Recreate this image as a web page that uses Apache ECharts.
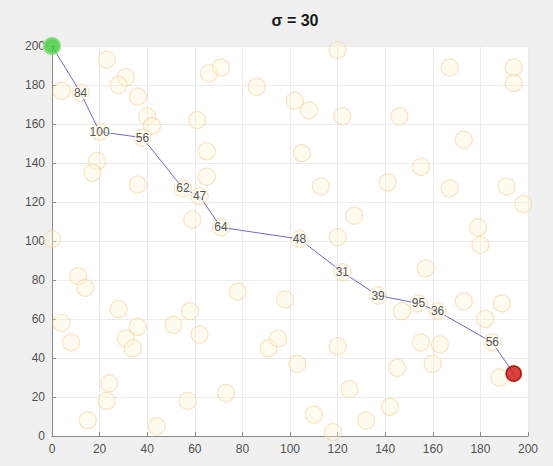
<!DOCTYPE html>
<html>
<head>
<meta charset="utf-8">
<script src="https://cdn.jsdelivr.net/npm/echarts@6/dist/echarts.min.js"></script>
<style>
html,body{margin:0;padding:0;background:#f0f0f0;}
#chart{width:553px;height:466px;}
</style>
</head>
<body>
<div id="chart"></div>
<script>
// ---- data ----
const titleText = 'σ = 30';
const xTicks = [0,20,40,60,80,100,120,140,160,180,200];
const yTicks = [0,20,40,60,80,100,120,140,160,180,200];

// route through the selected points
const pathX = [0, 12, 20, 38, 55, 62, 71, 104, 122, 137, 154, 162, 185, 194];
const pathY = [200, 176, 156, 153, 127, 123, 107, 101, 84, 72, 68, 64, 48, 32];
const pathLabels = ['', '84', '100', '56', '62', '47', '64', '48', '31', '39', '95', '36', '56', ''];

// all candidate points (circles)
const circleX = [4, 23, 31, 28, 36, 40, 42, 19, 17, 66, 71, 86, 65, 65, 59, 61, 120, 102, 108, 146,
  141, 120, 122, 105, 113, 127, 194, 194, 167, 173, 155, 167, 191, 198, 179, 180, 0, 11, 14, 28,
  36, 31, 34, 51, 58, 62, 4, 8, 78, 91, 95, 24, 23, 15, 57, 73, 44, 98, 103, 120,
  125, 110, 118, 132, 142, 145, 147, 157, 173, 189, 182, 155, 163, 160, 188, 36];
const circleY = [177, 193, 184, 180, 174, 164, 159, 141, 135, 186, 189, 179, 146, 133, 111, 162, 198, 172, 167, 164,
  130, 102, 164, 145, 128, 113, 189, 181, 189, 152, 138, 127, 128, 119, 107, 98, 101, 82, 76, 65,
  56, 50, 45, 57, 64, 52, 58, 48, 74, 45, 50, 27, 18, 8, 18, 22, 5, 70, 37, 46,
  24, 11, 2, 8, 15, 35, 64, 86, 69, 68, 60, 48, 47, 37, 30, 129];

// ---- build ----
const circleData = circleX.map((x, i) => [x, circleY[i]]).concat(pathX.map((x, i) => [x, pathY[i]]));
const pathData = pathX.map((x, i) => [x, pathY[i], pathLabels[i]]);
const labelData = pathData.slice(1, -1);
const startPt = [[pathX[0], pathY[0]]];
const endPt = [[pathX[pathX.length - 1], pathY[pathY.length - 1]]];

const FONT = 'Liberation Sans, Arial, Helvetica, sans-serif';
const chart = echarts.init(document.getElementById('chart'), null, {renderer: 'svg'});

const axisCommon = {
  type: 'value', min: 0, max: 200, interval: 20,
  axisLine: {show: true, lineStyle: {color: '#8a8a8a', width: 1}},
  axisTick: {show: true, inside: true, length: 4, lineStyle: {color: '#8a8a8a'}},
  axisLabel: {color: '#505050', fontSize: 12, fontFamily: FONT},
  splitLine: {show: true, lineStyle: {color: '#ececec', width: 1}}
};

chart.setOption({
  animation: false,
  backgroundColor: '#f0f0f0',
  title: {
    text: titleText, left: 290, top: 7, textAlign: 'center',
    textStyle: {fontSize: 16, fontWeight: 'bold', color: '#1a1a1a', fontFamily: FONT}
  },
  grid: {left: 52, right: 25, top: 46, bottom: 30, show: true, backgroundColor: '#ffffff', borderWidth: 0},
  xAxis: Object.assign({}, axisCommon, {
    axisLabel: Object.assign({}, axisCommon.axisLabel, {margin: 7, formatter: v => xTicks.includes(v) ? String(v) : ''})
  }),
  yAxis: Object.assign({}, axisCommon, {
    axisLabel: Object.assign({}, axisCommon.axisLabel, {margin: 7, formatter: v => yTicks.includes(v) ? String(v) : ''})
  }),
  series: [
    {
      type: 'scatter', data: circleData, symbol: 'circle', symbolSize: 17, z: 2,
      itemStyle: {color: 'rgba(255,247,212,0.45)', borderColor: 'rgba(242,208,155,0.65)', borderWidth: 1.3}
    },
    {
      type: 'line', data: pathData, symbol: 'none', z: 3,
      lineStyle: {color: '#7068c8', width: 1}
    },
    {
      type: 'scatter', data: labelData, symbolSize: 1, z: 4,
      itemStyle: {color: 'rgba(0,0,0,0)'},
      label: {
        show: true, position: 'inside', formatter: p => p.value[2],
        fontSize: 12, color: '#2a2a2a', fontFamily: FONT,
        backgroundColor: 'rgba(252,250,238,0.85)', padding: [0, 1]
      }
    },
    {
      type: 'scatter', data: startPt, symbolSize: 16, z: 5,
      itemStyle: {color: '#3cc93c', borderColor: '#80e080', borderWidth: 2}
    },
    {
      type: 'scatter', data: endPt, symbolSize: 15, z: 5,
      itemStyle: {color: '#d01010', borderColor: '#8a0000', borderWidth: 1.5}
    }
  ]
});
</script>
</body>
</html>
